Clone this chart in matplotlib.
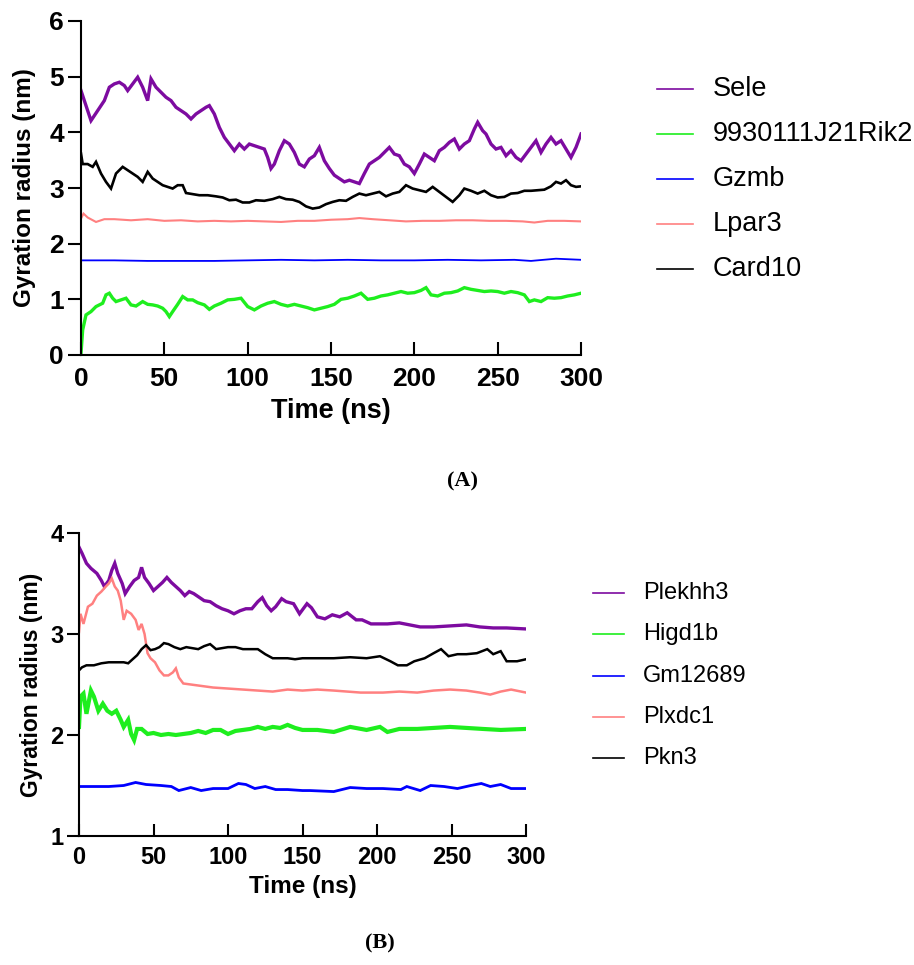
import matplotlib
matplotlib.use("Agg")
import matplotlib.pyplot as plt
from matplotlib.lines import Line2D

plt.rcParams['font.family'] = ['Liberation Sans', 'DejaVu Sans']

# ---------------- Panel A data (time in ns, radius of gyration in nm) ----------------
labels_a = ["Sele", "9930111J21Rik2", "Gzmb", "Lpar3", "Card10"]
colors_a = ["#7D0BA0", "#1EEE1E", "#0000FF", "#FF8080", "#000000"]

t_sele = [0, 2, 6, 10, 14, 17, 20, 23, 26, 28, 31, 34, 37, 40, 42, 45, 48, 51, 54, 57,
          60, 63, 66, 69, 72, 75, 77, 80, 83, 86, 89, 92, 95, 98, 101, 104, 107, 110, 112, 114,
          116, 119, 122, 125, 128, 131, 134, 137, 140, 143, 146, 149, 152, 155, 158, 161, 164, 167, 170, 173,
          176, 179, 182, 185, 188, 191, 194, 197, 200, 203, 206, 209, 212, 215, 218, 221, 224, 227, 230, 233,
          236, 238, 241, 243, 246, 249, 252, 255, 258, 261, 264, 267, 270, 273, 276, 279, 282, 285, 288, 291,
          294, 297, 300]
rg_sele = [4.75, 4.57, 4.21, 4.39, 4.57, 4.81, 4.87, 4.90, 4.84, 4.75, 4.87, 4.99, 4.81, 4.57, 4.96, 4.81, 4.72, 4.63, 4.57, 4.45,
           4.39, 4.33, 4.24, 4.33, 4.39, 4.45, 4.48, 4.33, 4.09, 3.91, 3.79, 3.67, 3.79, 3.70, 3.79, 3.76, 3.73, 3.70, 3.55, 3.35,
           3.43, 3.67, 3.85, 3.79, 3.64, 3.43, 3.38, 3.52, 3.58, 3.73, 3.49, 3.35, 3.23, 3.17, 3.11, 3.14, 3.11, 3.08, 3.26, 3.43,
           3.49, 3.55, 3.64, 3.73, 3.61, 3.58, 3.43, 3.38, 3.26, 3.43, 3.61, 3.55, 3.49, 3.67, 3.73, 3.82, 3.88, 3.70, 3.79, 3.85,
           4.06, 4.18, 4.03, 3.97, 3.79, 3.70, 3.73, 3.58, 3.67, 3.55, 3.49, 3.61, 3.73, 3.85, 3.64, 3.79, 3.91, 3.79, 3.85, 3.70,
           3.55, 3.73, 3.97]

t_rik2 = [0, 1, 3, 6, 9, 13, 15, 17, 19, 21, 24, 27, 30, 33, 37, 40, 43, 46, 49, 51,
          53, 55, 58, 61, 64, 67, 70, 74, 77, 80, 84, 88, 92, 96, 100, 104, 108, 112, 116, 120,
          124, 128, 132, 136, 140, 144, 148, 152, 156, 160, 164, 168, 172, 176, 180, 184, 188, 192, 196, 200,
          204, 207, 210, 214, 218, 222, 226, 230, 234, 238, 242, 246, 250, 254, 258, 262, 266, 269, 272, 276,
          280, 284, 288, 292, 296, 300]
rg_rik2 = [0.03, 0.45, 0.72, 0.78, 0.87, 0.93, 1.08, 1.11, 1.02, 0.96, 0.99, 1.02, 0.90, 0.88, 0.96, 0.91, 0.90, 0.88, 0.84, 0.78,
           0.69, 0.78, 0.91, 1.05, 0.99, 0.99, 0.94, 0.90, 0.82, 0.88, 0.93, 0.99, 1.00, 1.02, 0.87, 0.81, 0.88, 0.93, 0.96, 0.91,
           0.88, 0.91, 0.88, 0.85, 0.81, 0.84, 0.87, 0.91, 1.00, 1.02, 1.06, 1.11, 1.00, 1.02, 1.06, 1.08, 1.11, 1.14, 1.11, 1.12,
           1.16, 1.21, 1.08, 1.06, 1.11, 1.12, 1.15, 1.21, 1.18, 1.16, 1.14, 1.15, 1.14, 1.11, 1.14, 1.12, 1.08, 0.96, 0.99, 0.96,
           1.03, 1.02, 1.03, 1.06, 1.08, 1.11]

t_gzmb = [0, 20, 40, 60, 80, 100, 120, 140, 160, 180, 200, 220, 240, 260, 270, 285, 300]
rg_gzmb = [1.70, 1.70, 1.69, 1.69, 1.69, 1.70, 1.71, 1.70, 1.71, 1.70, 1.70, 1.71, 1.70, 1.71, 1.69, 1.73, 1.71]

t_lpar3 = [0, 1.5, 4, 9, 14, 20, 30, 40, 50, 60, 70, 80, 90, 100, 110, 120, 130, 140, 150, 160,
           167, 175, 185, 195, 205, 215, 225, 235, 245, 255, 265, 272, 280, 290, 300]
rg_lpar3 = [2.45, 2.54, 2.47, 2.39, 2.44, 2.44, 2.42, 2.44, 2.41, 2.42, 2.40, 2.41, 2.40, 2.41, 2.40, 2.39, 2.41, 2.41, 2.43, 2.44,
            2.46, 2.44, 2.42, 2.40, 2.41, 2.41, 2.42, 2.42, 2.41, 2.41, 2.40, 2.38, 2.41, 2.41, 2.40]

t_card10 = [0, 1, 4, 7, 9, 12, 15, 18, 21, 25, 28, 31, 34, 37, 40, 43, 46, 49, 52, 55,
            58, 61, 63, 67, 71, 76, 81, 85, 89, 93, 97, 101, 105, 110, 115, 119, 123, 127, 131, 135,
            139, 143, 147, 151, 155, 159, 163, 167, 171, 175, 179, 183, 187, 191, 195, 199, 203, 207, 211, 215,
            219, 223, 227, 230, 234, 238, 242, 246, 250, 254, 258, 262, 266, 270, 274, 278, 282, 285, 288, 291,
            294, 297, 300]
rg_card10 = [3.62, 3.43, 3.43, 3.38, 3.47, 3.26, 3.11, 2.99, 3.26, 3.38, 3.32, 3.26, 3.20, 3.11, 3.29, 3.17, 3.11, 3.05, 3.02, 2.99,
             3.05, 3.05, 2.91, 2.89, 2.87, 2.87, 2.85, 2.83, 2.78, 2.79, 2.74, 2.74, 2.78, 2.77, 2.80, 2.84, 2.80, 2.79, 2.75, 2.67,
             2.63, 2.65, 2.71, 2.75, 2.78, 2.77, 2.84, 2.90, 2.87, 2.90, 2.93, 2.85, 2.90, 2.93, 3.05, 2.99, 2.96, 2.93, 3.02, 2.93,
             2.84, 2.75, 2.87, 2.99, 2.95, 2.90, 2.95, 2.87, 2.83, 2.84, 2.90, 2.91, 2.95, 2.95, 2.96, 2.97, 3.03, 3.11, 3.08, 3.14,
             3.05, 3.02, 3.03]

# ---------------- Panel B data ----------------
labels_b = ["Plekhh3", "Higd1b", "Gm12689", "Plxdc1", "Pkn3"]
colors_b = ["#7D0BA0", "#1EEE1E", "#0000FF", "#FF8080", "#000000"]

t_plekhh3 = [0, 2, 5, 8, 12, 15, 17, 20, 22, 24, 26, 29, 31, 34, 37, 40, 42, 44, 47, 50,
             53, 56, 59, 62, 65, 68, 71, 74, 77, 80, 84, 88, 92, 96, 100, 104, 108, 112, 116, 120,
             123, 126, 129, 132, 136, 139, 144, 148, 153, 156, 160, 165, 170, 175, 180, 186, 190, 196, 207, 215,
             222, 229, 238, 249, 260, 269, 278, 287, 300]
rg_plekhh3 = [3.86, 3.80, 3.70, 3.65, 3.60, 3.53, 3.47, 3.53, 3.63, 3.70, 3.60, 3.50, 3.40, 3.47, 3.53, 3.56, 3.66, 3.56, 3.50, 3.43,
              3.47, 3.51, 3.56, 3.51, 3.47, 3.43, 3.38, 3.42, 3.40, 3.37, 3.33, 3.32, 3.28, 3.25, 3.23, 3.20, 3.23, 3.25, 3.25, 3.32,
              3.36, 3.28, 3.23, 3.27, 3.35, 3.32, 3.30, 3.20, 3.30, 3.26, 3.17, 3.15, 3.19, 3.17, 3.21, 3.14, 3.14, 3.10, 3.10, 3.11,
              3.09, 3.07, 3.07, 3.08, 3.09, 3.07, 3.06, 3.06, 3.05]

t_higd1b = [0, 1, 3, 5, 8, 10, 13, 16, 19, 22, 25, 28, 30, 33, 35, 37, 39, 42, 46, 50,
            55, 60, 65, 70, 75, 80, 85, 90, 95, 100, 105, 110, 115, 120, 125, 130, 135, 140, 145, 150,
            160, 171, 182, 193, 202, 207, 215, 227, 238, 249, 260, 271, 283, 300]
rg_higd1b = [2.08, 2.38, 2.41, 2.21, 2.44, 2.38, 2.24, 2.31, 2.24, 2.21, 2.24, 2.15, 2.08, 2.15, 2.01, 1.95, 2.06, 2.06, 2.01, 2.02,
             2.00, 2.01, 2.00, 2.01, 2.02, 2.04, 2.02, 2.05, 2.05, 2.01, 2.04, 2.05, 2.06, 2.08, 2.06, 2.08, 2.07, 2.10, 2.07, 2.05,
             2.05, 2.03, 2.08, 2.05, 2.08, 2.03, 2.06, 2.06, 2.07, 2.08, 2.07, 2.06, 2.05, 2.06]

t_gm12689 = [0, 10, 20, 30, 38, 45, 55, 62, 67, 75, 82, 90, 100, 107, 112, 118, 125, 132, 140, 150,
             155, 171, 182, 193, 204, 216, 220, 229, 236, 245, 254, 263, 270, 276, 283, 290, 300]
rg_gm12689 = [1.49, 1.49, 1.49, 1.50, 1.53, 1.51, 1.50, 1.49, 1.45, 1.48, 1.45, 1.47, 1.47, 1.52, 1.51, 1.47, 1.49, 1.46, 1.46, 1.45,
              1.45, 1.44, 1.48, 1.47, 1.47, 1.46, 1.49, 1.45, 1.50, 1.49, 1.47, 1.50, 1.52, 1.49, 1.51, 1.47, 1.47]

t_plxdc1 = [0, 1, 3, 6, 9, 12, 15, 18, 20, 22, 24, 26, 28, 30, 32, 35, 38, 40, 42, 44,
            46, 48, 51, 54, 57, 60, 63, 65, 67, 70, 75, 80, 90, 100, 110, 120, 130, 140, 150, 160,
            171, 180, 189, 204, 215, 227, 238, 249, 260, 269, 276, 283, 290, 300]
rg_plxdc1 = [3.02, 3.20, 3.10, 3.27, 3.30, 3.38, 3.42, 3.47, 3.50, 3.55, 3.47, 3.43, 3.33, 3.14, 3.23, 3.20, 3.14, 3.04, 3.10, 3.00,
             2.81, 2.76, 2.72, 2.64, 2.59, 2.59, 2.62, 2.66, 2.57, 2.51, 2.50, 2.49, 2.47, 2.46, 2.45, 2.44, 2.43, 2.45, 2.44, 2.45,
             2.44, 2.43, 2.42, 2.42, 2.43, 2.42, 2.44, 2.45, 2.44, 2.42, 2.40, 2.43, 2.45, 2.42]

t_pkn3 = [0, 2, 5, 10, 15, 20, 25, 30, 33, 36, 39, 42, 45, 48, 51, 54, 57, 60, 64, 68,
          72, 76, 80, 84, 88, 92, 96, 100, 105, 110, 115, 120, 125, 130, 135, 140, 145, 150, 160, 171,
          182, 193, 202, 209, 214, 220, 225, 232, 238, 243, 248, 254, 260, 267, 274, 278, 283, 287, 294, 300]
rg_pkn3 = [2.64, 2.67, 2.69, 2.69, 2.71, 2.72, 2.72, 2.72, 2.71, 2.75, 2.79, 2.85, 2.89, 2.84, 2.85, 2.87, 2.91, 2.90, 2.87, 2.85,
           2.87, 2.86, 2.85, 2.88, 2.90, 2.85, 2.86, 2.87, 2.87, 2.85, 2.85, 2.85, 2.80, 2.76, 2.76, 2.76, 2.75, 2.76, 2.76, 2.76,
           2.77, 2.76, 2.78, 2.73, 2.69, 2.69, 2.73, 2.76, 2.81, 2.85, 2.78, 2.80, 2.80, 2.81, 2.85, 2.80, 2.83, 2.73, 2.73, 2.75]

time_ticks = [0, 50, 100, 150, 200, 250, 300]
yticks_a = [0, 1, 2, 3, 4, 5, 6]
yticks_b = [1, 2, 3, 4]

series_a = [(t_sele, rg_sele, 2.4), (t_rik2, rg_rik2, 2.4), (t_gzmb, rg_gzmb, 1.3),
            (t_lpar3, rg_lpar3, 1.5), (t_card10, rg_card10, 1.9)]
series_b = [(t_plekhh3, rg_plekhh3, 2.4), (t_higd1b, rg_higd1b, 3.0), (t_gm12689, rg_gm12689, 2.0),
            (t_plxdc1, rg_plxdc1, 1.8), (t_pkn3, rg_pkn3, 1.8)]

W, H = 914, 965
fig = plt.figure(figsize=(W / 100, H / 100), dpi=100)


def axes_px(left, top, right, bottom):
    return fig.add_axes([left / W, 1 - bottom / H, (right - left) / W, (bottom - top) / H])


def style(ax, ylim, yticks, fs_tick, fs_xlab, fs_ylab, tick_len, xpad, ylab_x, xlab_y):
    ax.set_xlim(0, 300)
    ax.set_ylim(*ylim)
    ax.set_xticks(time_ticks)
    ax.set_yticks(yticks)
    for s in ("top", "right"):
        ax.spines[s].set_visible(False)
    for s in ("left", "bottom"):
        ax.spines[s].set_linewidth(1.5)
    ax.tick_params(axis="x", direction="in", length=tick_len, width=1.5, pad=xpad, labelsize=fs_tick)
    ax.tick_params(axis="y", direction="out", length=tick_len, width=1.5, pad=3, labelsize=fs_tick)
    for lab in ax.get_xticklabels() + ax.get_yticklabels():
        lab.set_fontweight("bold")
    ax.set_xlabel("Time (ns)", fontsize=fs_xlab, fontweight="bold")
    ax.set_ylabel("Gyration radius (nm)", fontsize=fs_ylab, fontweight="bold")
    ax.yaxis.set_label_coords(ylab_x, 0.5)
    ax.xaxis.set_label_coords(0.5, xlab_y)
    ax.xaxis.label.set_va("top")


def legend_px(labels, colors, x0, x1, xt, y0, dy, fs):
    for i, (lab, col) in enumerate(zip(labels, colors)):
        y = y0 + i * dy
        fig.add_artist(Line2D([x0 / W, x1 / W], [1 - y / H, 1 - y / H], color=col, lw=1.2,
                              transform=fig.transFigure))
        fig.text(xt / W, 1 - y / H, lab, fontsize=fs, va="center", ha="left")


# Panel A
axA = axes_px(81, 21, 581, 355)
for (t, r, lw), col in zip(series_a, colors_a):
    axA.plot(t, r, color=col, lw=lw, solid_joinstyle="miter")
style(axA, (0, 6), yticks_a, 19, 19.5, 17.5, 9.4, 8.5, -0.09, -0.13)
legend_px(labels_a, colors_a, 657, 693, 713, 89, 45, 19.5)
fig.text(463 / W, 1 - 481 / H, "(A)", fontsize=16, fontweight="bold",
         family=["Liberation Serif", "DejaVu Serif"], ha="center", va="center")

# Panel B
axB = axes_px(79, 533, 526, 836)
for (t, r, lw), col in zip(series_b, colors_b):
    axB.plot(t, r, color=col, lw=lw, solid_joinstyle="miter")
style(axB, (1, 4), yticks_b, 17, 17.5, 16.5, 8.3, 7.5, -0.08, -0.128)
legend_px(labels_b, colors_b, 593, 624, 643, 593, 41.3, 17)
fig.text(380 / W, 1 - 943 / H, "(B)", fontsize=16, fontweight="bold",
         family=["Liberation Serif", "DejaVu Serif"], ha="center", va="center")

fig.savefig("out.png", dpi=100)
